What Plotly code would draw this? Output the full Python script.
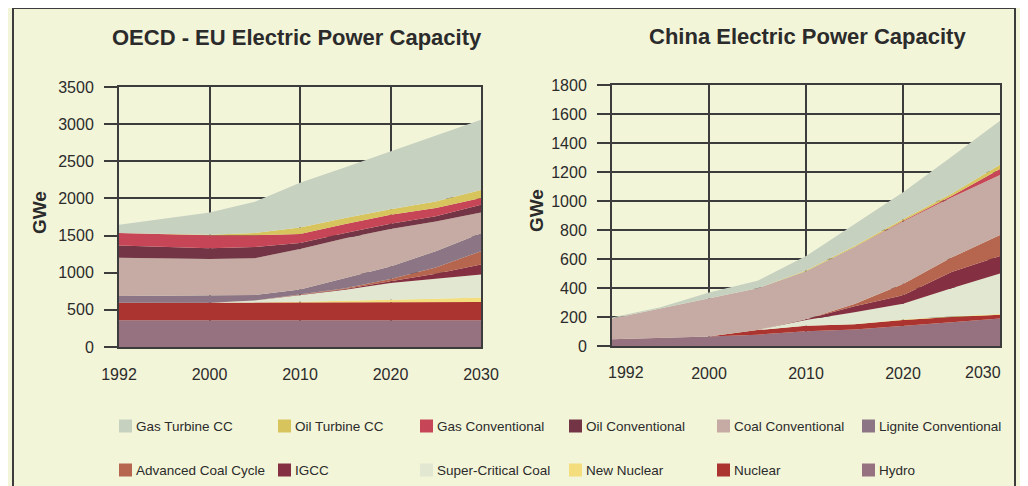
import plotly.graph_objects as go

# the page body adds an 8px margin, so the figure is 8px smaller than the window
W, H = 1020, 478
OFF = 8

years = ["1992", "1996", "2000", "2005", "2010", "2015", "2020", "2025", "2030"]
tick_years = ["1992", "2000", "2010", "2020", "2030"]

# series listed bottom of stack first
names = ["Hydro", "Nuclear", "New Nuclear", "Super-Critical Coal", "IGCC",
         "Advanced Coal Cycle", "Lignite Conventional", "Coal Conventional",
         "Oil Conventional", "Gas Conventional", "Oil Turbine CC", "Gas Turbine CC"]
colors = ["#96717f", "#ab3330", "#f3dd7c", "#e2e7d1", "#853042",
          "#b6654f", "#8c7585", "#c5aba3", "#733546", "#c64657", "#d8c45c", "#c7d1c0"]

# OECD - EU, GWe
eu_hydro = [360, 360, 360, 360, 360, 360, 360, 360, 360]
eu_nuclear = [235, 235, 235, 240, 240, 240, 240, 245, 245]
eu_new_nuclear = [0, 0, 0, 0, 10, 20, 35, 45, 60]
eu_sc_coal = [0, 0, 0, 25, 90, 150, 225, 265, 310]
eu_igcc = [0, 0, 0, 0, 5, 10, 25, 70, 135]
eu_adv_coal = [0, 0, 0, 0, 5, 10, 30, 85, 180]
eu_lignite = [90, 95, 95, 75, 65, 135, 170, 220, 240]
eu_coal_conv = [515, 505, 495, 495, 545, 540, 505, 400, 280]
eu_oil_conv = [165, 150, 145, 150, 80, 70, 70, 70, 105]
eu_gas_conv = [170, 175, 175, 160, 120, 120, 120, 110, 90]
eu_oil_tcc = [0, 0, 5, 30, 90, 80, 75, 90, 110]
eu_gas_tcc = [110, 210, 300, 420, 600, 685, 780, 890, 945]

# China, GWe
cn_hydro = [47, 54, 66, 78, 102, 114, 137, 163, 190]
cn_nuclear = [0, 0, 0, 32, 38, 36, 43, 37, 25]
cn_new_nuclear = [0, 0, 0, 0, 0, 0, 2, 3, 5]
cn_sc_coal = [0, 0, 0, 0, 40, 82, 110, 195, 280]
cn_igcc = [0, 0, 0, 0, 5, 43, 58, 112, 120]
cn_adv_coal = [0, 0, 0, 0, 0, 15, 78, 100, 145]
cn_lignite = [0, 0, 0, 0, 0, 0, 0, 0, 0]
cn_coal_conv = [142, 204, 261, 288, 331, 392, 431, 415, 415]
cn_oil_conv = [0, 0, 0, 0, 0, 0, 0, 0, 0]
cn_gas_conv = [0, 0, 0, 0, 0, 0, 5, 10, 40]
cn_oil_tcc = [0, 0, 0, 0, 4, 8, 10, 15, 30]
cn_gas_tcc = [7, 9, 42, 52, 100, 150, 186, 256, 304]

eu_series = [eu_hydro, eu_nuclear, eu_new_nuclear, eu_sc_coal, eu_igcc, eu_adv_coal,
             eu_lignite, eu_coal_conv, eu_oil_conv, eu_gas_conv, eu_oil_tcc, eu_gas_tcc]
cn_series = [cn_hydro, cn_nuclear, cn_new_nuclear, cn_sc_coal, cn_igcc, cn_adv_coal,
             cn_lignite, cn_coal_conv, cn_oil_conv, cn_gas_conv, cn_oil_tcc, cn_gas_tcc]

# legend layout, top-of-stack first
legend_rows = [["Gas Turbine CC", "Oil Turbine CC", "Gas Conventional",
                "Oil Conventional", "Coal Conventional", "Lignite Conventional"],
               ["Advanced Coal Cycle", "IGCC", "Super-Critical Coal",
                "New Nuclear", "Nuclear", "Hydro"]]

bg = "#f3f5d9"
ink = "#2b2b2b"
frame = "#3c3c3c"
FONT = "Liberation Sans, Arial, sans-serif"

fig = go.Figure()

for name, col, ys in zip(names, colors, eu_series):
    fig.add_trace(go.Scatter(x=years, y=ys, name=name, stackgroup="eu",
                             mode="lines", line=dict(width=0, color=col),
                             fillcolor=col, showlegend=False,
                             xaxis="x", yaxis="y"))

for name, col, ys in zip(names, colors, cn_series):
    fig.add_trace(go.Scatter(x=years, y=ys, name=name, stackgroup="cn",
                             mode="lines", line=dict(width=0, color=col),
                             fillcolor=col, showlegend=False,
                             xaxis="x2", yaxis="y2"))


# page pixel -> paper fraction
def px_x(p):
    return (p - OFF) / W


def px_y(p):
    return 1 - (p - OFF) / H


xax = dict(type="category", categoryorder="array", categoryarray=years,
           range=[0, len(years) - 1], tickvals=tick_years, ticks="",
           showgrid=True, gridcolor=frame, gridwidth=1.5,
           showline=True, linecolor=frame, linewidth=2, mirror=True,
           ticklabelstandoff=12, tickfont=dict(family=FONT, size=16, color=ink),
           zeroline=False, fixedrange=True, automargin=False)
yax = dict(showgrid=True, gridcolor=frame, gridwidth=1.5,
           showline=True, linecolor=frame, linewidth=2, mirror=True,
           ticks="outside", ticklen=13, tickwidth=1.5, tickcolor=frame,
           ticklabelstandoff=7, tickfont=dict(family=FONT, size=16, color=ink),
           zeroline=False, fixedrange=True, automargin=False)

fig.update_layout(
    width=W, height=H,
    margin=dict(l=0, r=0, t=0, b=0),
    paper_bgcolor=bg, plot_bgcolor=bg,
    showlegend=False,
    xaxis=dict(xax, domain=[px_x(119), px_x(481)], anchor="y"),
    yaxis=dict(yax, domain=[px_y(347), px_y(87)], anchor="x",
               range=[0, 3500], dtick=500),
    xaxis2=dict(xax, domain=[px_x(612), px_x(1000)], anchor="y2",
                ticktext=["", "2000", "2010", "2020", ""]),
    yaxis2=dict(yax, domain=[px_y(346), px_y(85)], anchor="x2",
                range=[0, 1800], dtick=200),
)

# end labels of the China axis sit inside the frame in the original
for yr, shift in [("1992", 14), ("2030", -17)]:
    fig.add_annotation(text=yr, x=years.index(yr), y=px_y(372), xref="x2", yref="paper",
                       xshift=shift, showarrow=False, xanchor="center", yanchor="middle",
                       font=dict(family=FONT, size=16, color=ink))

# titles
for text, x, y in [("OECD - EU Electric Power Capacity", 297, 37),
                   ("China Electric Power Capacity", 807, 36)]:
    fig.add_annotation(text="<b>" + text + "</b>", x=px_x(x), y=px_y(y),
                       xref="paper", yref="paper", showarrow=False,
                       xanchor="center", yanchor="middle",
                       font=dict(family=FONT, size=22, color=ink))

# y axis titles
for x, y in [(39, 213), (536, 211)]:
    fig.add_annotation(text="<b>GWe</b>", x=px_x(x), y=px_y(y), textangle=-90,
                       xref="paper", yref="paper", showarrow=False,
                       xanchor="center", yanchor="middle",
                       font=dict(family=FONT, size=19, color=ink))

# outer frame of the figure panel
for x0, y0, x1, y1 in [(13, 8, 1015, 8), (13, 8, 13, 486), (1015, 8, 1015, 486)]:
    fig.add_shape(type="line", xref="paper", yref="paper",
                  x0=px_x(x0), y0=px_y(y0), x1=px_x(x1), y1=px_y(y1),
                  line=dict(color=frame, width=2))

# legend: square swatch + label
col_x = [119, 278, 420, 569, 717, 862]
row_y = [426, 470]
color_of = dict(zip(names, colors))
for r, row in enumerate(legend_rows):
    for c, name in enumerate(row):
        x0 = col_x[c]
        yc = row_y[r]
        fig.add_shape(type="rect", xref="paper", yref="paper",
                      x0=px_x(x0), x1=px_x(x0 + 13), y0=px_y(yc + 6.5), y1=px_y(yc - 6.5),
                      fillcolor=color_of[name], line=dict(width=0))
        fig.add_annotation(text=name, x=px_x(x0 + 15), y=px_y(yc), xref="paper", yref="paper",
                           xanchor="left", yanchor="middle", showarrow=False,
                           font=dict(family=FONT, size=13.5, color=ink))

fig.write_html("out.html")
